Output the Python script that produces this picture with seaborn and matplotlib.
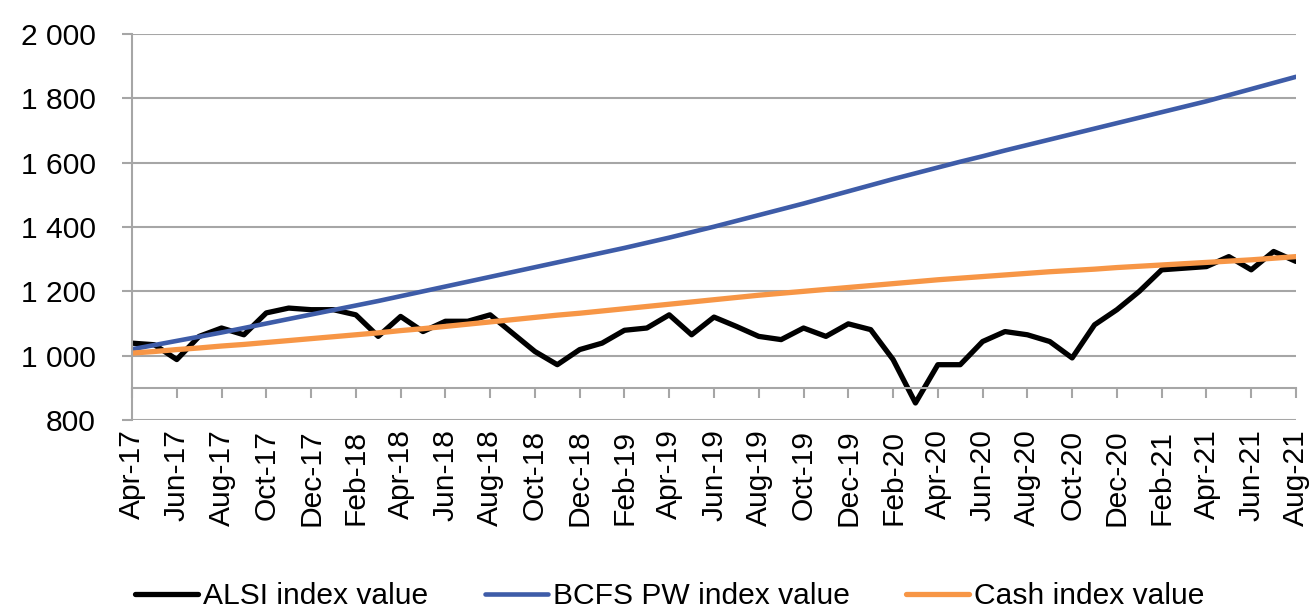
import matplotlib
matplotlib.use("Agg")
import matplotlib.pyplot as plt
import matplotlib.ticker as mticker
import seaborn as sns
import pandas as pd

sns.set_style("white")
plt.rcParams['font.family'] = ['Liberation Sans', 'DejaVu Sans']

# monthly, Apr-17 .. Aug-21
months = list(pd.date_range("2017-04-01", "2021-08-01", freq="MS").strftime("%b-%y"))

alsi = [1039, 1034, 988, 1060, 1086, 1065, 1133, 1148, 1143, 1143,
        1127, 1060, 1122, 1075, 1107, 1107, 1127, 1070, 1013, 972,
        1019, 1039, 1079, 1086, 1127, 1065, 1120, 1091, 1060, 1050,
        1086, 1060, 1099, 1081, 988, 853, 972, 972, 1044, 1075,
        1065, 1044, 993, 1096, 1143, 1200, 1267, 1272, 1277, 1308,
        1267, 1324, 1293]

bcfs = [1020, 1033, 1046, 1059, 1072, 1086, 1100, 1114, 1128, 1142,
        1156, 1170, 1185, 1200, 1215, 1230, 1245, 1260, 1275, 1290,
        1305, 1320, 1335, 1351, 1367, 1384, 1401, 1419, 1437, 1455,
        1473, 1492, 1511, 1530, 1549, 1567, 1585, 1603, 1620, 1638,
        1655, 1672, 1689, 1706, 1723, 1740, 1757, 1774, 1791, 1810,
        1829, 1848, 1867]

cash = [1008, 1013, 1019, 1024, 1030, 1035, 1041, 1047, 1053, 1059,
        1065, 1071, 1078, 1084, 1091, 1098, 1105, 1112, 1119, 1126,
        1132, 1139, 1146, 1153, 1160, 1167, 1174, 1181, 1188, 1194,
        1200, 1206, 1212, 1218, 1224, 1230, 1236, 1241, 1246, 1251,
        1256, 1261, 1265, 1269, 1274, 1278, 1282, 1286, 1290, 1294,
        1298, 1303, 1308]

df = pd.DataFrame({"pos": range(len(months)), "month": months,
                   "alsi": alsi, "bcfs": bcfs, "cash": cash})

GRID = "#A6A6A6"
FS = 21.6

fig = plt.figure(figsize=(13.16, 6.12), dpi=100)
ax = fig.add_axes([0.1003, 0.3137, 0.8845, 0.6307])

sns.lineplot(data=df, x="pos", y="alsi", color="black", linewidth=3.8,
             label="ALSI index value", ax=ax)
sns.lineplot(data=df, x="pos", y="bcfs", color="#3E5CA8", linewidth=3.3,
             label="BCFS PW index value", ax=ax)
sns.lineplot(data=df, x="pos", y="cash", color="#F79646", linewidth=3.8,
             label="Cash index value", ax=ax)

ax.set_xlim(0, len(months) - 1)
ax.set_ylim(800, 2000)
ax.set_yticks(range(800, 2001, 200))
ax.yaxis.set_major_formatter(
    mticker.FuncFormatter(lambda v, p: f"{v:,.0f}".replace(",", " ")))
ax.grid(axis="y", color=GRID, linewidth=1.5)
ax.set_axisbelow(True)

ax.set_xticks(list(df["pos"][::2]))
ax.set_xticklabels(list(df["month"][::2]))

for s in ["top", "right"]:
    ax.spines[s].set_visible(False)
ax.spines["left"].set_color(GRID)
ax.spines["left"].set_linewidth(1.5)
ax.spines["bottom"].set_position(("data", 900))
ax.spines["bottom"].set_color(GRID)
ax.spines["bottom"].set_linewidth(1.5)

ax.tick_params(axis="y", direction="out", length=7, width=1.5, color=GRID,
               labelsize=FS, labelcolor="black", pad=19, left=True)
ax.tick_params(axis="x", direction="out", length=7, width=1.5, color=GRID,
               labelsize=FS, labelcolor="black", pad=23, bottom=True,
               labelrotation=90)
ax.set_xlabel("")
ax.set_ylabel("")

h, l = ax.get_legend_handles_labels()
ax.get_legend().remove()
leg = fig.legend(h, l, loc="center", bbox_to_anchor=(0.509, 0.026), ncol=3,
                 frameon=False, fontsize=FS, handlelength=2.1,
                 handletextpad=0.15, columnspacing=1.9)
for t in leg.get_texts():
    t.set_color("black")

fig.savefig("out.png", dpi=100)
